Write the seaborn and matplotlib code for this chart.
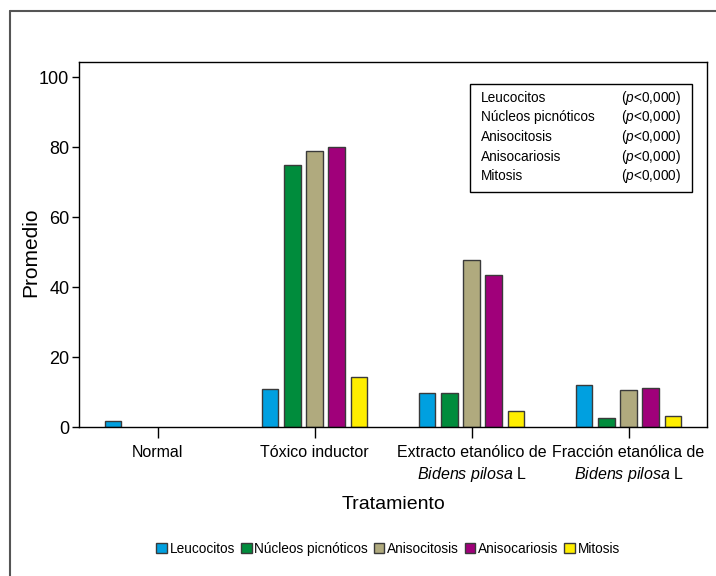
import pandas as pd
import matplotlib.pyplot as plt
import seaborn as sns
from matplotlib.lines import Line2D
from matplotlib.patches import Rectangle, Patch

# ===============================================
# Datos
# ===============================================
tratamientos = [
    "Normal",
    "Tóxico inductor",
    "Extracto etanólico de\n$\\it{Bidens\\ pilosa}$ L",
    "Fracción etanólica de\n$\\it{Bidens\\ pilosa}$ L",
]
parametros = ["Leucocitos", "Núcleos picnóticos", "Anisocitosis", "Anisocariosis", "Mitosis"]
p_valores = ["($\\it{p}$<0,000)"] * 5

leucocitos = [1.7, 11.0, 9.6, 12.0]
nucleos = [0.0, 75.0, 9.6, 2.6]
anisocitosis = [0.0, 78.9, 47.6, 10.7]
anisocariosis = [0.0, 79.9, 43.5, 11.2]
mitosis = [0.0, 14.4, 4.6, 3.2]

colores = ["#00A0E0", "#008C3C", "#B0AA7E", "#A0007A", "#FFEE00"]

valores = [leucocitos, nucleos, anisocitosis, anisocariosis, mitosis]
df = pd.DataFrame({
    "Tratamiento": [t for _ in parametros for t in tratamientos],
    "Parametro": [p for p in parametros for _ in tratamientos],
    "Promedio": [v for serie in valores for v in serie],
})

# ===============================================
# Estilo
# ===============================================
sns.set_style("white")
plt.rcParams["font.family"] = ["Liberation Sans", "DejaVu Sans"]
plt.rcParams["mathtext.fontset"] = "custom"
plt.rcParams["mathtext.rm"] = "Liberation Sans"
plt.rcParams["mathtext.it"] = "Liberation Sans:italic"
for k in ["text.color", "axes.labelcolor", "xtick.color", "ytick.color"]:
    plt.rcParams[k] = "black"

fig = plt.figure(figsize=(7.16, 5.76), dpi=100)
ax = fig.add_axes([79 / 716, 1 - 427 / 576, 628 / 716, 365 / 576])

sns.barplot(data=df, x="Tratamiento", y="Promedio", hue="Parametro",
            order=tratamientos, hue_order=parametros, palette=colores,
            width=0.71, gap=0.25, edgecolor="#3a3a3a", linewidth=1,
            saturation=1, ax=ax)
ax.get_legend().remove()
# barras con valor 0: sin borde
for barra in ax.patches:
    if barra.get_height() == 0:
        barra.set_linewidth(0)

ax.set_xlim(-0.5, 3.5)
ax.set_ylim(0, 104.3)
ax.set_yticks([0, 20, 40, 60, 80, 100])
for s in ax.spines.values():
    s.set_visible(True)
    s.set_color("black")
    s.set_linewidth(1)
    s.set_zorder(5)

ax.tick_params(axis="y", left=True, length=5, width=1, labelsize=13, pad=2)
ax.tick_params(axis="x", bottom=True, length=8, width=1, labelsize=11.5, pad=5)
for lab in ax.get_xticklabels():
    lab.set_linespacing(1.35)

ax.set_xlabel("Tratamiento", fontsize=14)
ax.xaxis.set_label_coords(0.5, -0.188)
ax.set_ylabel("Promedio", fontsize=15)
ax.yaxis.set_label_coords(-0.062, 0.479)

# Cuadro de valores p
ax.add_patch(Rectangle((0.623, 0.644), 0.353, 0.296, transform=ax.transAxes,
                       fill=False, edgecolor="black", linewidth=1))
filas_y = [0.901, 0.848, 0.795, 0.741, 0.688]
for y, nombre, p in zip(filas_y, parametros, p_valores):
    ax.text(0.640, y, nombre, transform=ax.transAxes, fontsize=9.8, va="center", ha="left")
    ax.text(0.959, y, p, transform=ax.transAxes, fontsize=9.8, va="center", ha="right")

# Leyenda inferior
handles = [Patch(facecolor=c, edgecolor="#3a3a3a", linewidth=1) for c in colores]
fig.legend(handles, parametros, loc="center", bbox_to_anchor=(0.542, 0.047), ncol=5,
           frameon=False, fontsize=9.8, handlelength=0.8, handleheight=0.8,
           handletextpad=0.2, columnspacing=0.4, borderaxespad=0)

# Marco de la figura
fig.add_artist(Line2D([10 / 716, 1], [1 - 11 / 576] * 2, color="#555555", lw=1.5))
fig.add_artist(Line2D([10 / 716] * 2, [1 - 11 / 576, 0], color="#555555", lw=1.5))

fig.savefig("out.png", dpi=100)
